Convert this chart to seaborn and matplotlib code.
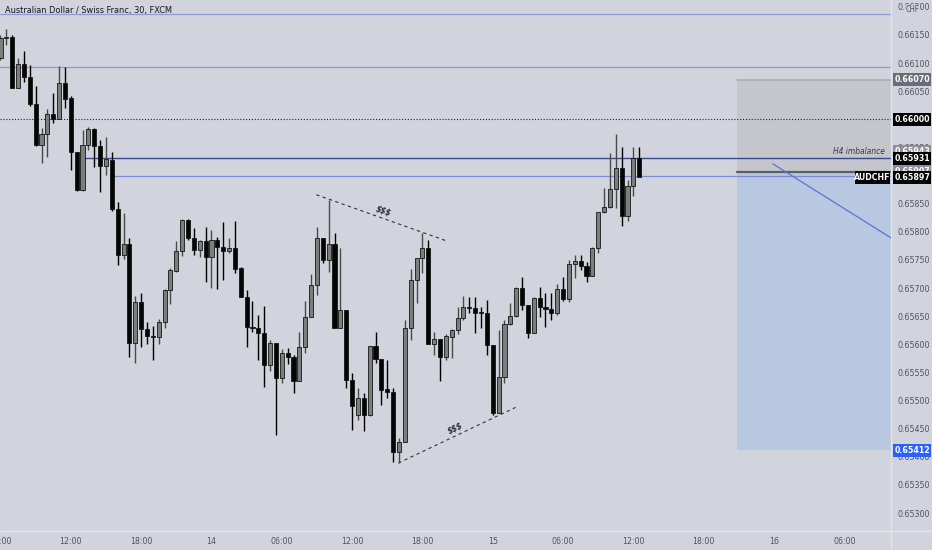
import matplotlib
matplotlib.use("Agg")
import matplotlib.pyplot as plt
import matplotlib.transforms as mtransforms
from matplotlib.patches import Rectangle
from matplotlib.lines import Line2D
import seaborn as sns

# AUDCHF 30m candles, 13th 06:00 -> 15th 12:30
opens = [0.66109, 0.66145, 0.66146, 0.66056, 0.66098, 0.66075, 0.66027, 0.65954, 0.65974, 0.66010,
         0.66001, 0.66065, 0.66038, 0.65942, 0.65874, 0.65954, 0.65983, 0.65953, 0.65917, 0.65928,
         0.65841, 0.65759, 0.65778, 0.65602, 0.65675, 0.65627, 0.65615, 0.65613, 0.65640, 0.65697,
         0.65730, 0.65766, 0.65821, 0.65789, 0.65768, 0.65784, 0.65755, 0.65786, 0.65773, 0.65766,
         0.65771, 0.65736, 0.65684, 0.65631, 0.65629, 0.65620, 0.65563, 0.65602, 0.65540, 0.65585,
         0.65578, 0.65535, 0.65595, 0.65649, 0.65706, 0.65789, 0.65750, 0.65778, 0.65629, 0.65661,
         0.65537, 0.65474, 0.65505, 0.65474, 0.65597, 0.65574, 0.65521, 0.65515, 0.65409, 0.65426,
         0.65629, 0.65714, 0.65754, 0.65771, 0.65601, 0.65610, 0.65578, 0.65613, 0.65626, 0.65647,
         0.65666, 0.65665, 0.65656, 0.65655, 0.65599, 0.65478, 0.65542, 0.65636, 0.65650, 0.65700,
         0.65670, 0.65620, 0.65682, 0.65666, 0.65663, 0.65656, 0.65698, 0.65681, 0.65743, 0.65748,
         0.65739, 0.65722, 0.65771, 0.65835, 0.65844, 0.65876, 0.65914, 0.65828, 0.65882, 0.65931]
highs = [0.66150, 0.66161, 0.66150, 0.66109, 0.66122, 0.66097, 0.66059, 0.65985, 0.66018, 0.66047,
         0.66095, 0.66093, 0.66042, 0.65942, 0.65981, 0.65986, 0.65985, 0.65963, 0.65969, 0.65942,
         0.65853, 0.65834, 0.65789, 0.65686, 0.65691, 0.65640, 0.65633, 0.65645, 0.65698, 0.65736,
         0.65784, 0.65823, 0.65823, 0.65807, 0.65786, 0.65809, 0.65803, 0.65791, 0.65818, 0.65789,
         0.65819, 0.65738, 0.65697, 0.65677, 0.65652, 0.65668, 0.65608, 0.65602, 0.65592, 0.65594,
         0.65581, 0.65622, 0.65677, 0.65725, 0.65809, 0.65789, 0.65857, 0.65798, 0.65771, 0.65661,
         0.65549, 0.65522, 0.65514, 0.65597, 0.65622, 0.65574, 0.65572, 0.65522, 0.65434, 0.65643,
         0.65734, 0.65754, 0.65798, 0.65786, 0.65622, 0.65610, 0.65618, 0.65627, 0.65666, 0.65686,
         0.65684, 0.65684, 0.65666, 0.65679, 0.65599, 0.65626, 0.65643, 0.65674, 0.65702, 0.65720,
         0.65670, 0.65684, 0.65702, 0.65691, 0.65691, 0.65707, 0.65720, 0.65750, 0.65759, 0.65759,
         0.65746, 0.65773, 0.65835, 0.65878, 0.65940, 0.65974, 0.65951, 0.65892, 0.65951, 0.65951]
lows = [0.66106, 0.66132, 0.66056, 0.66056, 0.66066, 0.66024, 0.65953, 0.65922, 0.65933, 0.65994,
        0.66001, 0.66020, 0.65910, 0.65873, 0.65873, 0.65946, 0.65915, 0.65871, 0.65901, 0.65837,
        0.65741, 0.65752, 0.65578, 0.65567, 0.65595, 0.65601, 0.65572, 0.65601, 0.65629, 0.65672,
        0.65729, 0.65757, 0.65786, 0.65759, 0.65755, 0.65711, 0.65700, 0.65698, 0.65714, 0.65762,
        0.65727, 0.65684, 0.65595, 0.65622, 0.65572, 0.65524, 0.65553, 0.65439, 0.65531, 0.65565,
        0.65514, 0.65535, 0.65585, 0.65649, 0.65688, 0.65745, 0.65729, 0.65629, 0.65629, 0.65522,
        0.65448, 0.65466, 0.65446, 0.65473, 0.65567, 0.65492, 0.65505, 0.65391, 0.65389, 0.65426,
        0.65608, 0.65674, 0.65727, 0.65601, 0.65581, 0.65535, 0.65572, 0.65576, 0.65618, 0.65643,
        0.65656, 0.65620, 0.65629, 0.65581, 0.65474, 0.65478, 0.65531, 0.65634, 0.65649, 0.65661,
        0.65611, 0.65620, 0.65649, 0.65631, 0.65643, 0.65652, 0.65677, 0.65675, 0.65718, 0.65732,
        0.65711, 0.65722, 0.65762, 0.65834, 0.65842, 0.65842, 0.65810, 0.65819, 0.65864, 0.65897]
closes = [0.66145, 0.66146, 0.66056, 0.66098, 0.66075, 0.66027, 0.65954, 0.65974, 0.66010, 0.66001,
          0.66065, 0.66036, 0.65942, 0.65874, 0.65954, 0.65983, 0.65953, 0.65917, 0.65930, 0.65841,
          0.65759, 0.65778, 0.65602, 0.65675, 0.65627, 0.65615, 0.65613, 0.65640, 0.65697, 0.65732,
          0.65766, 0.65821, 0.65789, 0.65768, 0.65784, 0.65755, 0.65786, 0.65773, 0.65766, 0.65771,
          0.65734, 0.65684, 0.65631, 0.65629, 0.65620, 0.65563, 0.65602, 0.65540, 0.65585, 0.65578,
          0.65535, 0.65595, 0.65649, 0.65706, 0.65789, 0.65750, 0.65778, 0.65629, 0.65661, 0.65537,
          0.65490, 0.65505, 0.65474, 0.65597, 0.65574, 0.65519, 0.65515, 0.65409, 0.65426, 0.65629,
          0.65714, 0.65754, 0.65771, 0.65601, 0.65610, 0.65578, 0.65615, 0.65626, 0.65647, 0.65666,
          0.65665, 0.65656, 0.65655, 0.65599, 0.65478, 0.65542, 0.65636, 0.65650, 0.65700, 0.65670,
          0.65620, 0.65682, 0.65666, 0.65663, 0.65656, 0.65698, 0.65681, 0.65743, 0.65748, 0.65739,
          0.65722, 0.65771, 0.65835, 0.65844, 0.65876, 0.65914, 0.65828, 0.65882, 0.65931, 0.65897]

time_ticks = [0, 12, 24, 36, 48, 60, 72, 84, 96, 108, 120, 132, 144]
time_labels = ["06:00", "12:00", "18:00", "14", "06:00", "12:00", "18:00", "15",
               "06:00", "12:00", "18:00", "16", "06:00"]
price_ticks = [0.65300, 0.65350, 0.65400, 0.65450, 0.65500, 0.65550, 0.65600, 0.65650,
               0.65700, 0.65750, 0.65800, 0.65850, 0.65900, 0.65950, 0.66000, 0.66050,
               0.66100, 0.66150, 0.66200]

# drawn levels
level_top = 0.66187
level_upper = 0.66093
round_level = 0.66000
imb_high = 0.65931
imb_low = 0.65899
stop_price = 0.66070
entry_price = 0.65907
target_price = 0.65412
last_price = 0.65897
liq_top_x = [53.9, 76.1]
liq_top_y = [0.65866, 0.65784]
liq_bot_x = [67.9, 87.9]
liq_bot_y = [0.65389, 0.65488]
proj_x = [131.8, 152.0]
proj_y = [0.65921, 0.65789]

bg = "#d1d4dc"
sns.set_style("white")
plt.rcParams["font.family"] = ["DejaVu Sans"]
plt.rcParams["font.stretch"] = "condensed"

fig = plt.figure(figsize=(9.32, 5.5), dpi=100, facecolor=bg)
ax = fig.add_axes([0, 19 / 550, 891 / 932, 531 / 550])
ax.set_facecolor(bg)
x0, x1 = -0.085, 151.96
ax.set_xlim(x0, x1)
ax.set_ylim(0.652682, 0.662122)

# position tool
box_x = 125.7
ax.add_patch(Rectangle((box_x, entry_price), x1 - box_x, stop_price - entry_price,
                       facecolor="#c4c6cb", edgecolor="none", zorder=1))
ax.add_patch(Rectangle((box_x, target_price), x1 - box_x, entry_price - target_price,
                       facecolor="#b8c8e0", edgecolor="none", zorder=1))
ax.plot([box_x, x1], [stop_price, stop_price], color="#b0b3b9", lw=1.5, zorder=2)
ax.plot([box_x, x1], [entry_price, entry_price], color="#5d6068", lw=1.6, zorder=2)

# horizontal levels
ax.axhline(level_top, color="#8f97dd", lw=0.9, zorder=2)
ax.axhline(level_upper, color="#8f97dd", lw=0.9, zorder=2)
ax.axhline(round_level, color="#222222", lw=0.8, ls=(0, (1, 1.6)), zorder=2)
ax.plot([14.4, x1], [imb_high, imb_high], color="#3d4690", lw=1.0, zorder=2)
ax.plot([19.0, x1], [imb_low, imb_low], color="#8088d2", lw=0.9, zorder=2)
ax.plot(proj_x, proj_y, color="#5b72dc", lw=0.9, zorder=2)

# liquidity lines
sns.lineplot(x=liq_top_x, y=liq_top_y, ax=ax, color="#333333", lw=0.8,
             linestyle=(0, (3, 3)), zorder=2)
sns.lineplot(x=liq_bot_x, y=liq_bot_y, ax=ax, color="#333333", lw=0.8,
             linestyle=(0, (3, 3)), zorder=2)
ax.text(65.3, 0.65837, "$$$", rotation=-19.5, ha="center", va="center", fontsize=6,
        style="italic", weight="bold", color="#2a2e39", zorder=3)
ax.text(77.6, 0.65451, "$$$", rotation=25.6, ha="center", va="center", fontsize=6,
        style="italic", weight="bold", color="#2a2e39", zorder=3)
ax.text(150.9, imb_high + 0.00004, "H4 imbalance", ha="right", va="bottom", fontsize=6,
        style="italic", color="#363a45", zorder=3)

# candles
idx = list(range(len(opens)))
up = [c >= o for o, c in zip(opens, closes)]
wick_cols = ["#4a4a4a" if u else "#000000" for u in up]
body_cols = ["#7d7d7d" if u else "#050505" for u in up]
ax.vlines(idx, lows, highs, colors=wick_cols, lw=1.0, zorder=4)
bottoms = [min(o, c) for o, c in zip(opens, closes)]
heights = [max(abs(c - o), 0.00002) for o, c in zip(opens, closes)]
ax.bar(idx, heights, bottom=bottoms, width=0.7, color=body_cols, edgecolor="#151515",
       linewidth=0.6, zorder=5)

# axes
for s in ax.spines.values():
    s.set_visible(False)
ax.yaxis.tick_right()
ax.set_yticks(price_ticks)
ax.set_yticklabels([f"{p:.5f}" for p in price_ticks])
ax.set_xticks(time_ticks)
ax.set_xticklabels(time_labels)
ax.tick_params(axis="y", length=0, pad=4.5, labelsize=6.3, labelcolor="#50535e")
ax.tick_params(axis="x", length=0, pad=4, labelsize=6.3, labelcolor="#50535e")
ax.grid(False)
ax.set_xlabel("")
ax.set_ylabel("")

# price labels on the scale
tr = mtransforms.blended_transform_factory(ax.transAxes, ax.transData)
lab_h = 13 / 56250
def price_tag(price, bgc, text=None, x=1.0025, w=38 / 891, z=10):
    ax.add_patch(Rectangle((x, price - lab_h / 2), w, lab_h, transform=tr, clip_on=False,
                           facecolor=bgc, edgecolor="none", zorder=z))
    ax.text(x + w / 2, price, text or f"{price:.5f}", transform=tr, ha="center",
            va="center", color="white", fontsize=6.3, weight="bold", clip_on=False, zorder=z + 1)

price_tag(0.65943, "#8d9098", z=8)
price_tag(entry_price, "#8d9098", z=8)
price_tag(stop_price, "#6a6d75")
price_tag(round_level, "#000000")
price_tag(imb_high, "#000000")
price_tag(last_price, "#000000")
price_tag(target_price, "#2962ff")
price_tag(last_price, "#000000", text="AUDCHF", x=1 - 36 / 891, w=35 / 891)

fig.text(5 / 932, 1 - 11 / 550, "Australian Dollar / Swiss Franc, 30, FXCM", ha="left",
         va="center", fontsize=6.6, color="#131722")
fig.text(912 / 932, 1 - 10 / 550, "CHF", ha="center", va="center", fontsize=5.5,
         color="#50535e", bbox=dict(facecolor=bg, edgecolor="none", pad=0.3, alpha=0.85))

fig.add_artist(Line2D([891 / 932, 891 / 932], [0, 1], transform=fig.transFigure,
                      color="#e2e4e8", lw=1))
fig.add_artist(Line2D([0, 1], [19 / 550, 19 / 550], transform=fig.transFigure,
                      color="#e2e4e8", lw=1))

fig.savefig("out.png", dpi=100, facecolor=bg)
